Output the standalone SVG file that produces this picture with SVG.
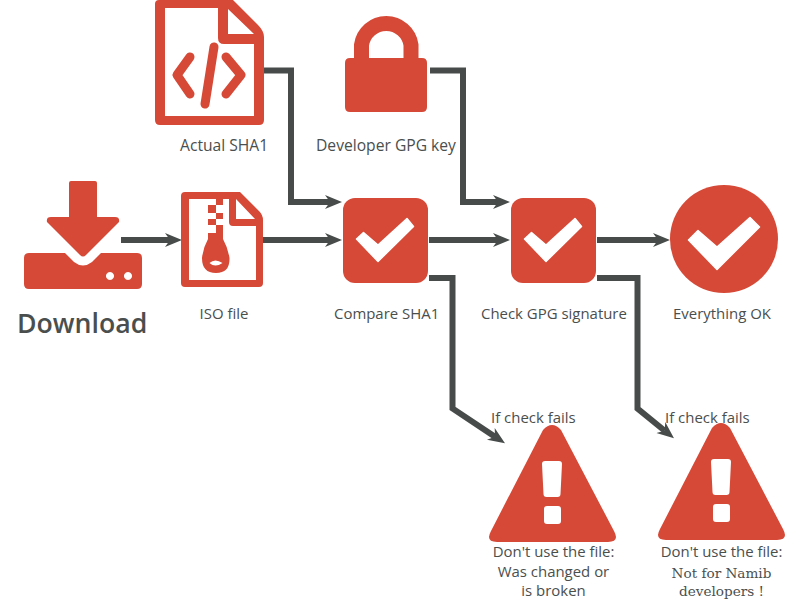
<svg xmlns="http://www.w3.org/2000/svg" width="800" height="615" viewBox="0 0 800 615">
<style>
.i{fill:#d64937}
.w{fill:#fff}
.k{fill:#fff;stroke:#fff;stroke-width:1.500;stroke-linejoin:round}
.c{fill:none;stroke:#474c4b;stroke-width:6;stroke-linejoin:miter;marker-end:url(#a)}
text{font-family:"Open Sans","Noto Sans",sans-serif;font-size:14.950px;font-weight:500;fill:#4a4f4e}
.m{text-anchor:middle}
.l{font-size:15.650px}
.s{font-family:"DejaVu Serif","Liberation Serif",serif;font-size:13.600px;font-weight:400;text-anchor:middle}
</style>
<defs>
<marker id="a" markerUnits="userSpaceOnUse" markerWidth="20" markerHeight="16" refX="5" refY="8" orient="auto"><path d="M0,1 L17,8 L0,15 L5,8z" fill="#474c4b"/></marker>
<path id="chk" d="M356.500,239 L363.500,232.500 L378,245 L407,218.500 L413.500,226.500 L378,261.500z"/>
<path id="ex" d="M3,0H17Q20,0 20,3L18.500,33Q18.500,36 15.500,36H4.500Q1.500,36 1.500,33L0,3Q0,0 3,0ZM5,45H16Q19,45 19,48V60Q19,63 16,63H5Q2,63 2,60V48Q2,45 5,45Z"/>
</defs>
<g id="connectors">
<path class="c" d="M264,70.500H291V202H330"/>
<path class="c" d="M430,70.500H463V202H498"/>
<path class="c" d="M121,240H170"/>
<path class="c" d="M263,240H330"/>
<path class="c" d="M429,240H498"/>
<path class="c" d="M597,240H658"/>
<path class="c" d="M429,278H452.500V408.500L495,436.700"/>
<path class="c" d="M597,278H637.500V408.500L664.700,430.700"/>
</g>
<g id="actual-sha1">
<path class="i" fill-rule="evenodd" d="M159,0H233L258,25Q264,31 264,37V120Q264,125 259,125H160Q155,125 155,120V4Q155,0 159,0ZM165,8V116H254V44H224Q218,44 218,38V8ZM228,9V34H254Z"/>
<path d="M190,57L177,75L190,94M226,57L241,75L226,94M214,47L205,104" fill="none" stroke="#d64937" stroke-width="9" stroke-linecap="round" stroke-linejoin="round"/>
<text class="l" x="180" y="150.500">Actual SHA1</text>
</g>
<g id="developer-gpg-key">
<path class="i" d="M350,58H422Q427,58 427,63V107Q427,112 422,112H350Q345,112 345,107V63Q345,58 350,58Z"/>
<path d="M361.500,60V45A25,25 0 0 1 411,45V60" fill="none" stroke="#d64937" stroke-width="15"/>
<text class="l" x="316" y="150.500">Developer GPG key</text>
</g>
<g id="download">
<path class="i" d="M71,181H95Q97,181 97,183V217H115Q120,217 119,222L86,255Q83,258 80,255L47,222Q46,217 51,217H69V183Q69,181 71,181Z"/>
<path class="i" fill-rule="evenodd" d="M29,253H65L74,262Q83,269 92,262L101,253H137Q142,253 142,258V284Q142,289 137,289H29Q24,289 24,284V258Q24,253 29,253ZM110,272a4,4 0 1 0 .01,0ZM128,272a4,4 0 1 0 .01,0Z"/>
<text x="17" y="332.500" style="font-size:26.700px;font-weight:600">Download</text>
</g>
<g id="iso-file">
<path class="i" fill-rule="evenodd" d="M185,192H240L259,211Q263,215 263,220V283Q263,287 259,287H185Q181,287 181,283V196Q181,192 185,192ZM189,199V280H256V226H233Q229,226 229,222V199ZM236,199V219H255Z"/>
<path class="i" d="M216,199H223V205H216ZM208,205H216V213H208ZM216,213H223V219H216ZM208,219H216V225H208ZM216,225H223V233H216ZM208,233H223V239Q228,248 229.500,258Q230,273 216,273Q202,273 202,258Q203,248 208,239Z"/>
<path class="w" d="M209.500,263Q215,258 222.500,263Q215,268 209.500,263Z"/>
<text class="m" x="224" y="318.500">ISO file</text>
</g>
<g id="compare-sha1">
<rect class="i" x="343" y="198" width="85" height="85" rx="12"/>
<use href="#chk" class="k"/>
<text x="334" y="318.500">Compare SHA1</text>
</g>
<g id="check-gpg-signature">
<rect class="i" x="511" y="198" width="85" height="85" rx="12"/>
<use href="#chk" x="168" class="k"/>
<text x="481" y="318.500">Check GPG signature</text>
</g>
<g id="everything-ok">
<circle class="i" cx="724" cy="239" r="54"/>
<path class="k" d="M688.500,240L698,230.500L717,247L750,217.500L759.500,227L717,269.500z"/>
<text x="673" y="318.500">Everything OK</text>
</g>
<g id="warning-1">
<path class="i" d="M543,430Q552,420 561,430L614,531Q620,542 608,542H497Q485,542 491,531Z"/>
<use href="#ex" x="542" y="461" class="w"/>
<text x="491" y="423">If check fails</text>
<text class="m" x="553.500" y="556.500">Don't use the file:</text>
<text class="m" x="553.500" y="576.500">Was changed or</text>
<text class="m" x="553.500" y="596">is broken</text>
</g>
<g id="warning-2">
<path class="i" d="M712,428Q721,418 730,428L783,529Q789,540 777,540H666Q654,540 660,529Z"/>
<use href="#ex" x="711" y="459" class="w"/>
<text x="665" y="422.500">If check fails</text>
<text class="m" x="721.500" y="556.500">Don't use the file:</text>
<text class="s" x="721.500" y="578">Not for Namib</text>
<text class="s" x="721.500" y="596">developers !</text>
</g>
</svg>
